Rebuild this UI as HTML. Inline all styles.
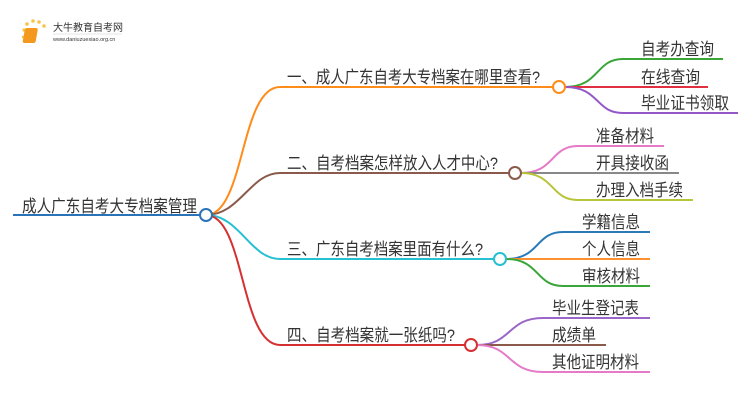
<!DOCTYPE html>
<html><head><meta charset="utf-8"><style>
body{margin:0;background:#fff;}
svg{display:block;}
text{font-family:"Liberation Sans","Noto Sans CJK SC",sans-serif;fill:#333;}
</style></head><body>
<svg width="750" height="410" viewBox="0 0 750 410" xmlns="http://www.w3.org/2000/svg">
<g>
<circle cx="24" cy="30" r="1.6" fill="#f7c44a"/><circle cx="27" cy="24" r="1.8" fill="#f7c44a"/><circle cx="33" cy="21" r="1.8" fill="#f7c44a"/><circle cx="39" cy="22" r="1.8" fill="#f7c44a"/><circle cx="44" cy="26" r="1.8" fill="#f7c44a"/><circle cx="23" cy="37" r="1.3" fill="#f7c44a"/>
<rect x="30" y="28" width="13" height="15" rx="2" fill="#f39a1e" transform="skewX(-10)"/>
<text x="53" y="31" font-size="10" fill="#333">大牛教育自考网</text>
<line x1="53" y1="34" x2="122" y2="34" stroke="#ccc" stroke-width="0.6"/>
<text x="53" y="41" font-size="5.5" fill="#666">www.daniuzuexiao.org.cn</text>
</g>
<g fill="none" stroke-width="2">
<line x1="13" y1="215" x2="200" y2="215" stroke="#2a73b8"/>
<path d="M206 215 C245 215 240 87 280 87 L553 87" stroke="#ff8c1a"/>
<path d="M206 215 C240 215 250 173 280 173 L509 173" stroke="#8b5a4a"/>
<path d="M206 215 C240 215 250 259 280 259 L494 259" stroke="#26c0d3"/>
<path d="M206 215 C245 215 240 345 280 345 L465 345" stroke="#d63031"/>
<path d="M565 87 C600 87 595 59 623 59 L723 59" stroke="#3aa63a"/>
<path d="M565 87 L708 87" stroke="#e03040"/>
<path d="M565 87 C600 87 595 113 623 113 L738 113" stroke="#9457c8"/>
<path d="M521 173 C555 173 550 146 578 146 L664 146" stroke="#e57ac8"/>
<path d="M521 173 L679 173" stroke="#888"/>
<path d="M521 173 C555 173 550 200 578 200 L693 200" stroke="#b8c43a"/>
<path d="M506 259 C540 259 535 232 563 232 L650 232" stroke="#2a7ab8"/>
<path d="M506 259 L650 259" stroke="#ff9030"/>
<path d="M506 259 C540 259 535 286 563 286 L650 286" stroke="#3aa63a"/>
<path d="M477 345 C512 345 507 318 543 318 L650 318" stroke="#9a66c8"/>
<path d="M477 345 L606 345" stroke="#8b5a4a"/>
<path d="M477 345 C512 345 507 372 543 372 L650 372" stroke="#e57ac8"/>
</g>
<g fill="#fff" stroke-width="2">
<circle cx="206" cy="215" r="6" stroke="#2a73b8"/>
<circle cx="559" cy="87" r="6" stroke="#ff8c1a"/>
<circle cx="515" cy="173" r="6" stroke="#8b5a4a"/>
<circle cx="500" cy="259" r="6" stroke="#26c0d3"/>
<circle cx="471" cy="345" r="6" stroke="#d63031"/>
</g>
<g font-size="17">
<text x="22" y="212" textLength="175" lengthAdjust="spacingAndGlyphs">成人广东自考大专档案管理</text>
<text x="287" y="83" textLength="253" lengthAdjust="spacingAndGlyphs">一、成人广东自考大专档案在哪里查看?</text>
<text x="287" y="169" textLength="211" lengthAdjust="spacingAndGlyphs">二、自考档案怎样放入人才中心?</text>
<text x="287" y="255" textLength="196" lengthAdjust="spacingAndGlyphs">三、广东自考档案里面有什么?</text>
<text x="287" y="341" textLength="168" lengthAdjust="spacingAndGlyphs">四、自考档案就一张纸吗?</text>
<text x="641" y="55" textLength="73" lengthAdjust="spacingAndGlyphs">自考办查询</text>
<text x="641" y="83" textLength="59" lengthAdjust="spacingAndGlyphs">在线查询</text>
<text x="641" y="109" textLength="88" lengthAdjust="spacingAndGlyphs">毕业证书领取</text>
<text x="596" y="142" textLength="58" lengthAdjust="spacingAndGlyphs">准备材料</text>
<text x="596" y="169" textLength="73" lengthAdjust="spacingAndGlyphs">开具接收函</text>
<text x="596" y="196" textLength="87" lengthAdjust="spacingAndGlyphs">办理入档手续</text>
<text x="582" y="228" textLength="58" lengthAdjust="spacingAndGlyphs">学籍信息</text>
<text x="582" y="255" textLength="58" lengthAdjust="spacingAndGlyphs">个人信息</text>
<text x="582" y="282" textLength="58" lengthAdjust="spacingAndGlyphs">审核材料</text>
<text x="552" y="314" textLength="87" lengthAdjust="spacingAndGlyphs">毕业生登记表</text>
<text x="552" y="341" textLength="44" lengthAdjust="spacingAndGlyphs">成绩单</text>
<text x="552" y="368" textLength="87" lengthAdjust="spacingAndGlyphs">其他证明材料</text>
</g>
</svg>
</body></html>
